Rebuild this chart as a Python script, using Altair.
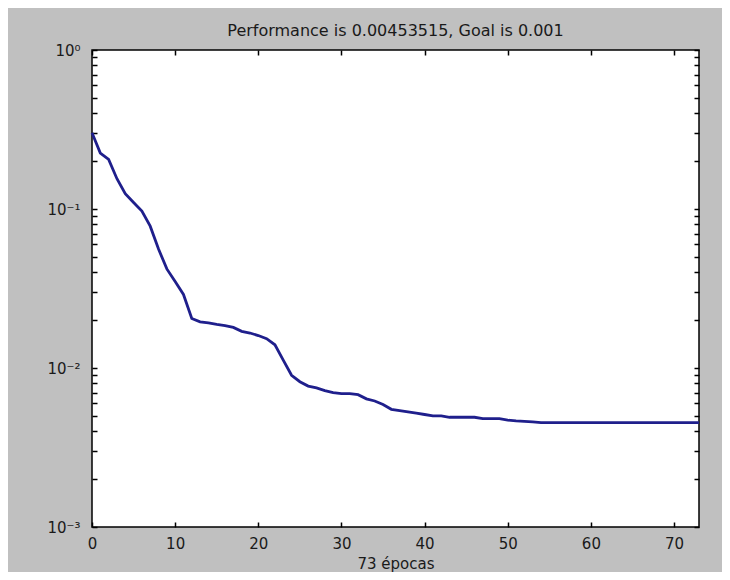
import altair as alt
import pandas as pd

# ---- data ----
epochs = list(range(74))
performance = [
    0.302, 0.225, 0.205, 0.155, 0.125, 0.110, 0.097, 0.078, 0.056, 0.042,
    0.035, 0.029, 0.0205, 0.0195, 0.0192, 0.0188, 0.0185, 0.0180, 0.0170, 0.0166,
    0.0160, 0.0153, 0.0140, 0.0112, 0.0090, 0.0082, 0.0077, 0.0075, 0.0072, 0.0070,
    0.0069, 0.0069, 0.0068, 0.0064, 0.0062, 0.0059, 0.0055, 0.0054, 0.0053, 0.0052,
    0.0051, 0.0050, 0.0050, 0.0049, 0.0049, 0.0049, 0.0049, 0.0048, 0.0048, 0.0048,
    0.0047, 0.00465, 0.00462, 0.00458, 0.00454, 0.004535, 0.004535, 0.004535, 0.004535, 0.004535,
    0.004535, 0.004535, 0.004535, 0.004535, 0.004535, 0.004535, 0.004535, 0.004535, 0.004535, 0.004535,
    0.004535, 0.004535, 0.004535, 0.00453515,
]
x_ticks = [0, 10, 20, 30, 40, 50, 60, 70]
y_ticks = [
    0.001, 0.002, 0.003, 0.004, 0.005, 0.006, 0.007, 0.008, 0.009,
    0.01, 0.02, 0.03, 0.04, 0.05, 0.06, 0.07, 0.08, 0.09,
    0.1, 0.2, 0.3, 0.4, 0.5, 0.6, 0.7, 0.8, 0.9, 1,
]
title_text = "Performance is 0.00453515, Goal is 0.001"
x_title = "73 épocas"

df = pd.DataFrame({"epoch": epochs, "perf": performance})

FONT = "DejaVu Sans"
label_expr = (
    "datum.value == 1 ? '10\u2070' : datum.value == 0.1 ? '10\u207b\u00b9' : "
    "datum.value == 0.01 ? '10\u207b\u00b2' : datum.value == 0.001 ? '10\u207b\u00b3' : ''"
)

x_scale = alt.Scale(domain=[0, 73], nice=False, zero=False)
y_scale = alt.Scale(type="log", domain=[0.001, 1], nice=False)

common_axis = dict(
    grid=False, domain=False, tickSize=5, tickWidth=1.5, tickColor="black",
    offset=-5, labelFont=FONT, labelFontSize=15, labelColor="#1a1a1a",
    labelOverlap=False, labelFlush=False,
)

line = alt.Chart(df).mark_line(color="#1f1f8c", strokeWidth=2.8).encode(
    x=alt.X(
        "epoch:Q", scale=x_scale,
        axis=alt.Axis(orient="bottom", values=x_ticks, title=x_title,
                      titleFont=FONT, titleFontSize=15, titleFontWeight="normal",
                      titleColor="#1a1a1a", titlePadding=5, labelPadding=9,
                      **common_axis),
    ),
    y=alt.Y(
        "perf:Q", scale=y_scale,
        axis=alt.Axis(orient="left", values=y_ticks, labelExpr=label_expr,
                      title=None, labelPadding=12, **common_axis),
    ),
)

frame = alt.Chart(df).mark_line(opacity=0).encode(
    x=alt.X(
        "epoch:Q", scale=x_scale,
        axis=alt.Axis(orient="top", values=x_ticks, labels=False, title=None,
                      **common_axis),
    ),
    y=alt.Y(
        "perf:Q", scale=y_scale,
        axis=alt.Axis(orient="right", values=y_ticks, labels=False, title=None,
                      **common_axis),
    ),
)

chart = (
    alt.layer(line, frame)
    .resolve_scale(x="independent", y="independent")
    .properties(
        width=607, height=477,
        title=alt.TitleParams(title_text, font=FONT, fontSize=16,
                              fontWeight="normal", color="#1a1a1a",
                              anchor="middle", offset=4),
        padding={"left": 84, "top": 42, "right": 23, "bottom": 45},
        autosize="none",
        background="#c0c0c0",
    )
    .configure_view(fill="white", stroke="black", strokeWidth=1.5)
)

chart.save("out.html", embed_options={"renderer": "svg", "actions": False})
